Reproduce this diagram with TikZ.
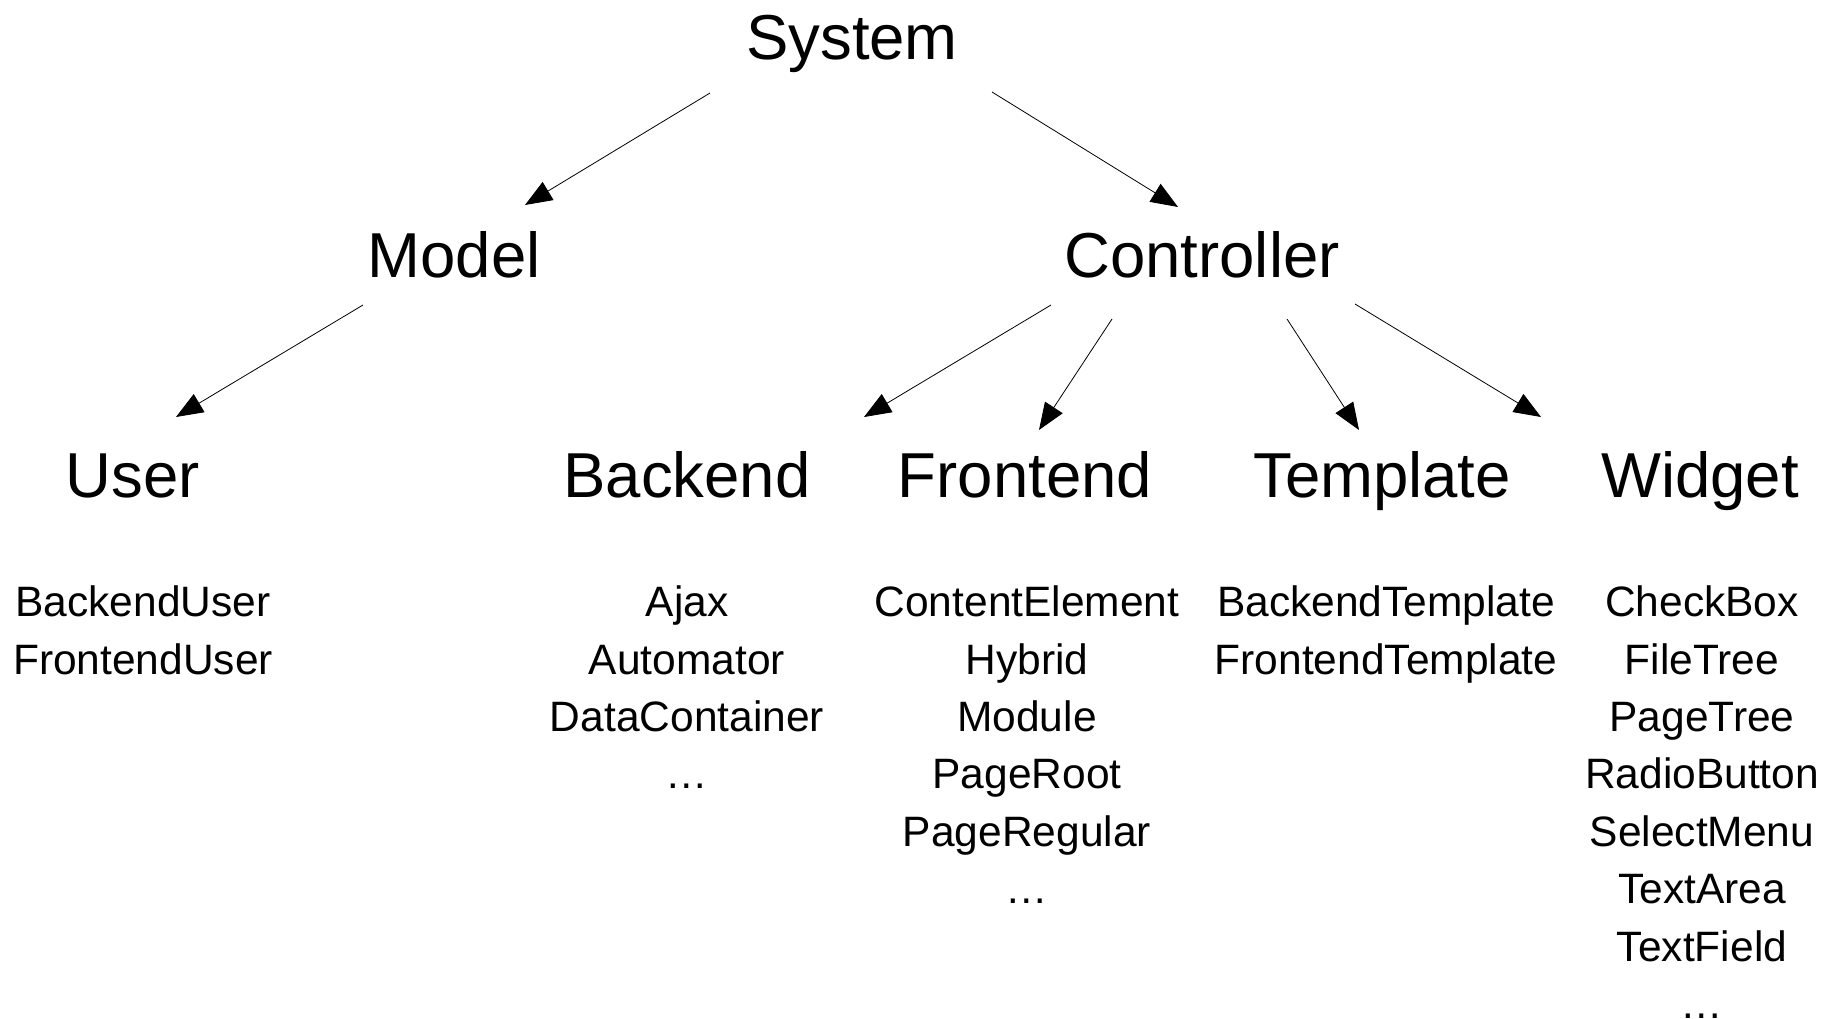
\documentclass[tikz,border=0pt]{standalone}
\usepackage{fontspec}
\setmainfont{Liberation Sans}
\usetikzlibrary{arrows.meta}
\tikzset{
  big/.style={font=\fontsize{63.5}{75}\selectfont, inner sep=0pt, anchor=base},
  item/.style={font=\fontsize{42.5}{50}\selectfont, inner sep=0pt, anchor=base},
  arr/.style={line width=0.8pt, -{Triangle[length=27pt,width=21pt]}}
}
\begin{document}
\begin{tikzpicture}[x=1pt,y=-1pt]
\useasboundingbox[fill=white] (0,0) rectangle (1841,1019);
% main nodes
\node[big] (System) at (852,60) {System};
\node[big] (Model) at (454,277) {Model};
\node[big] (Controller) at (1202,277) {Controller};
\node[big] (User) at (133,497) {User};
\node[big] (Backend) at (687,497) {Backend};
\node[big] (Frontend) at (1025,497) {Frontend};
\node[big] (Template) at (1382,497) {Template};
\node[big] (Widget) at (1700,497) {Widget};
% lists
\foreach \t [count=\i] in {BackendUser,FrontendUser}
  \node[item] (u\i) at (143,{616.7+57.4*(\i-1)}) {\t};
\foreach \t [count=\i] in {Ajax,Automator,DataContainer,\dots}
  \node[item] (b\i) at (687,{616.7+57.4*(\i-1)}) {\t};
\foreach \t [count=\i] in {ContentElement,Hybrid,Module,PageRoot,PageRegular,\dots}
  \node[item] (f\i) at (1027,{616.7+57.4*(\i-1)}) {\t};
\foreach \t [count=\i] in {BackendTemplate,FrontendTemplate}
  \node[item] (t\i) at (1386,{616.7+57.4*(\i-1)}) {\t};
\foreach \t [count=\i] in {CheckBox,FileTree,PageTree,RadioButton,SelectMenu,TextArea,TextField,\dots}
  \node[item] (w\i) at (1702,{616.7+57.4*(\i-1)}) {\t};
% arrows
\draw[arr] ([shift={(-142,33)}]System.base) -- ([shift={(71,-72)}]Model.base);
\draw[arr] ([shift={(140,32)}]System.base) -- ([shift={(-24,-70)}]Controller.base);
\draw[arr] ([shift={(-91,28)}]Model.base) -- ([shift={(43,-80)}]User.base);
\draw[arr] ([shift={(-151,28)}]Controller.base) -- ([shift={(177,-80)}]Backend.base);
\draw[arr] ([shift={(-90,42)}]Controller.base) -- ([shift={(14,-67)}]Frontend.base);
\draw[arr] ([shift={(85,42)}]Controller.base) -- ([shift={(-23,-67)}]Template.base);
\draw[arr] ([shift={(153,27)}]Controller.base) -- ([shift={(-159,-80)}]Widget.base);
\end{tikzpicture}
\end{document}
